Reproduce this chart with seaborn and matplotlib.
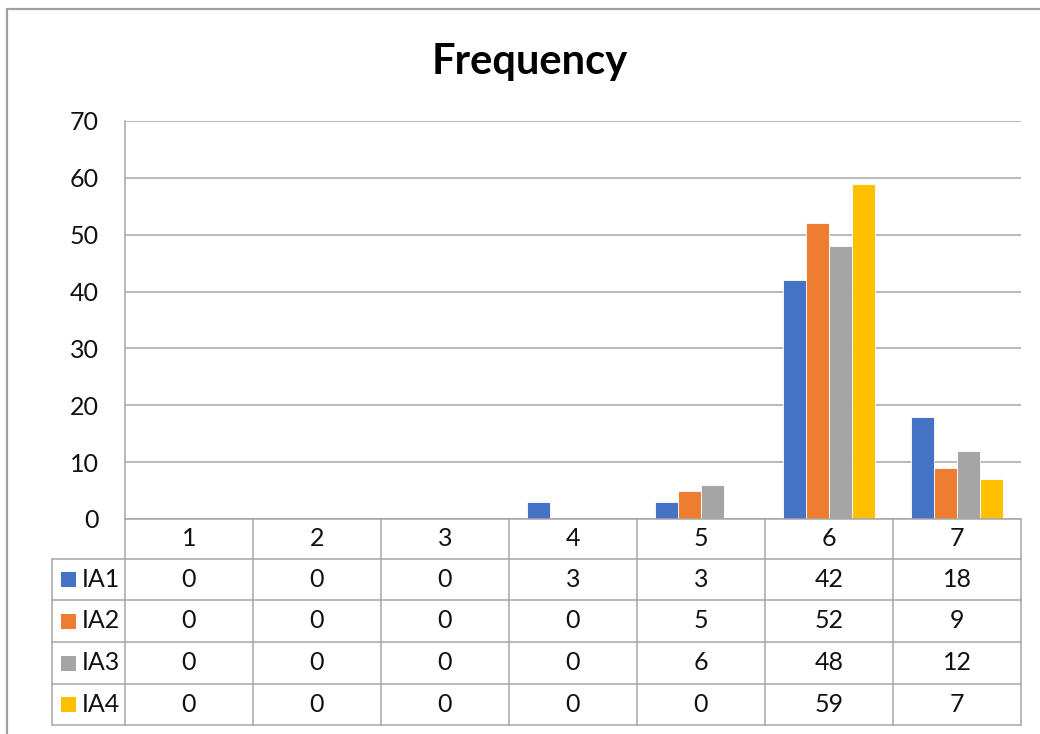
import matplotlib
matplotlib.use("Agg")
import matplotlib.pyplot as plt
import seaborn as sns
import pandas as pd

# Frequency counts per response level for each item
categories = ["1", "2", "3", "4", "5", "6", "7"]
series_names = ["IA1", "IA2", "IA3", "IA4"]
ia1 = [0, 0, 0, 3, 3, 42, 18]
ia2 = [0, 0, 0, 0, 5, 52, 9]
ia3 = [0, 0, 0, 0, 6, 48, 12]
ia4 = [0, 0, 0, 0, 0, 59, 7]
y_ticks = [0, 10, 20, 30, 40, 50, 60, 70]
title = "Frequency"

series_values = [ia1, ia2, ia3, ia4]
colors = ["#4472C4", "#ED7D31", "#A5A5A5", "#FFC000"]

rows = []
for name, vals in zip(series_names, series_values):
    for cat, v in zip(categories, vals):
        rows.append({"Level": cat, "Count": v, "Item": name})
df = pd.DataFrame(rows)

sns.set_theme(style="white")
FONT = ["Lato", "DejaVu Sans"]
plt.rcParams["font.family"] = FONT

W, H = 1040, 734
fig = plt.figure(figsize=(W / 100, H / 100), dpi=100)

# plot area in pixel layout
px_left, px_right, px_top, px_bottom = 125, 1021, 121, 519
ax = fig.add_axes([px_left / W, 1 - px_bottom / H,
                   (px_right - px_left) / W, (px_bottom - px_top) / H])

grid_c = "#A6A6A6"
sns.barplot(data=df, x="Level", y="Count", hue="Item", order=categories,
            hue_order=series_names, palette=colors, saturation=1, width=0.72,
            edgecolor="white", linewidth=0.6, ax=ax, legend=False, zorder=3)

ax.set_ylim(0, 70)
ax.set_xlim(-0.5, len(categories) - 0.5)
ax.set_yticks(y_ticks)
ax.set_yticklabels([str(t) for t in y_ticks], fontsize=18, color="#111111")
ax.tick_params(axis="y", length=0, pad=19)
ax.set_xticks([])
ax.set_xlabel("")
ax.set_ylabel("")
ax.yaxis.grid(True, color=grid_c, linewidth=1.1, zorder=0)
ax.set_axisbelow(True)
for side in ["top", "right", "bottom"]:
    ax.spines[side].set_visible(False)
ax.spines["left"].set_color(grid_c)
ax.spines["left"].set_linewidth(1.1)

# overlay in pixel coordinates for the frame, title and data table
ov = fig.add_axes([0, 0, 1, 1], zorder=5)
ov.set_xlim(0, W)
ov.set_ylim(H, 0)
ov.axis("off")
ov.patch.set_alpha(0)

line_c = "#A6A6A6"
lw = 1.1

# chart frame
ov.plot([7, 7], [9, H], color="#A0A0A0", lw=1.6)
ov.plot([7, W], [9, 9], color="#A0A0A0", lw=1.6)

ov.text(530, 62, title, ha="center", va="center", fontsize=30,
        fontweight="bold", color="#000000", family=FONT)

# data table
n = len(categories)
col_w = (px_right - px_left) / n
col_edges = [px_left + i * col_w for i in range(n + 1)]
table_left = 52
row_edges = [519, 559, 600, 642, 684, 725]

# horizontal rules
ov.plot([px_left, px_right], [row_edges[0], row_edges[0]], color=line_c, lw=lw)
for y in row_edges[1:]:
    ov.plot([table_left, px_right], [y, y], color=line_c, lw=lw)
# vertical rules
for x in col_edges:
    ov.plot([x, x], [row_edges[0], row_edges[-1]], color=line_c, lw=lw)
ov.plot([table_left, table_left], [row_edges[1], row_edges[-1]], color=line_c, lw=lw)

txt_c = "#111111"
fs = 18
for i, cat in enumerate(categories):
    cx = (col_edges[i] + col_edges[i + 1]) / 2
    cy = (row_edges[0] + row_edges[1]) / 2
    ov.text(cx, cy, cat, ha="center", va="center", fontsize=fs, color=txt_c)

for r, (name, vals, c) in enumerate(zip(series_names, series_values, colors)):
    cy = (row_edges[r + 1] + row_edges[r + 2]) / 2
    ov.add_patch(plt.Rectangle((61, cy - 7.5), 15, 15, facecolor=c, edgecolor="none"))
    ov.text(82, cy, name, ha="left", va="center", fontsize=fs, color=txt_c)
    for i, v in enumerate(vals):
        cx = (col_edges[i] + col_edges[i + 1]) / 2
        ov.text(cx, cy, str(v), ha="center", va="center", fontsize=fs, color=txt_c)

fig.savefig("out.png", dpi=100)
